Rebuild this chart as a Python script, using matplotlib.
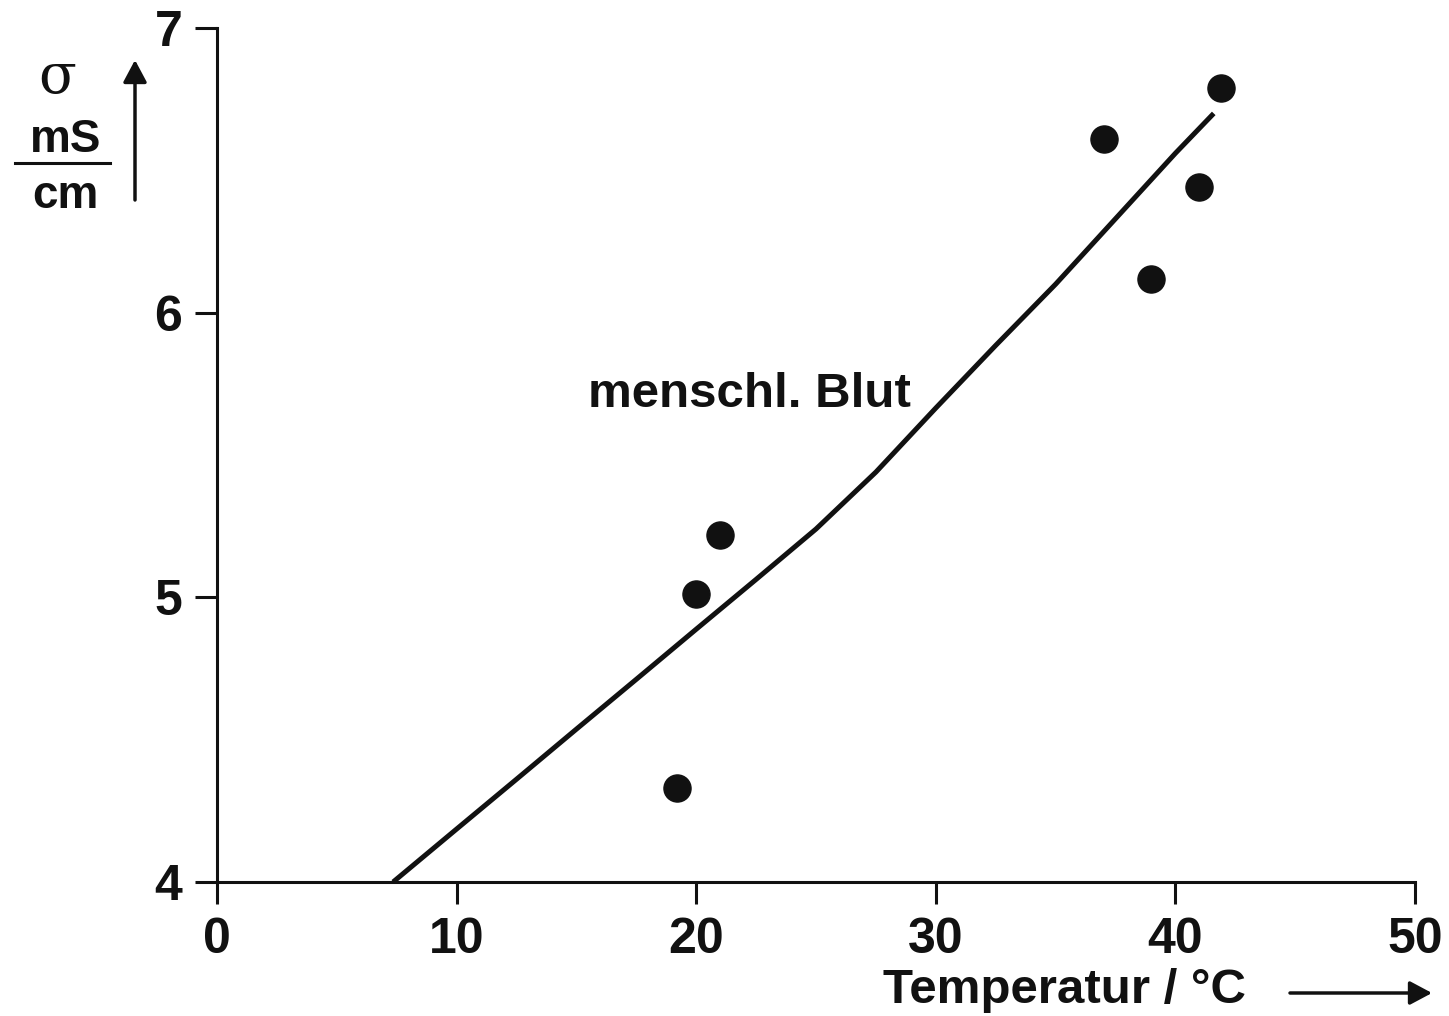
import matplotlib
matplotlib.use("Agg")
import matplotlib.pyplot as plt

plt.rcParams['font.family'] = ['Liberation Sans', 'DejaVu Sans']

# measured points (temperature in degC, conductivity in mS/cm)
temp_pts = [19.2, 20.0, 21.0, 37.0, 39.0, 41.0, 41.9]
sigma_pts = [4.33, 5.01, 5.22, 6.61, 6.12, 6.44, 6.79]

# fitted curve
temp_curve = [7.35, 10.0, 12.5, 15.0, 17.5, 20.0, 22.5, 25.0, 27.5, 30.0, 32.5, 35.0, 37.5, 40.0, 41.6]
sigma_curve = [4.0, 4.186, 4.361, 4.537, 4.712, 4.888, 5.063, 5.24, 5.44, 5.665, 5.885, 6.10, 6.33, 6.56, 6.70]

x_ticks = [0, 10, 20, 30, 40, 50]
y_ticks = [4, 5, 6, 7]

fig = plt.figure(figsize=(14.49, 10.16), dpi=100)
ax = fig.add_axes([217 / 1449, 1 - 882 / 1016, (1415 - 217) / 1449, (882 - 28) / 1016])

ax.plot(temp_curve, sigma_curve, color='#111111', lw=3.6, solid_capstyle='butt', clip_on=False)
ax.plot(temp_pts, sigma_pts, 'o', color='#111111', ms=19.5, clip_on=False)

ax.set_xlim(0, 50)
ax.set_ylim(4, 7)
ax.set_xticks(x_ticks)
ax.set_yticks(y_ticks)
ax.spines['top'].set_visible(False)
ax.spines['right'].set_visible(False)
for s in ['left', 'bottom']:
    ax.spines[s].set_linewidth(2.2)
    ax.spines[s].set_color('#111111')
ax.tick_params(axis='both', length=16, width=2.2, color='#111111', pad=9,
               labelsize=36, labelcolor='#111111')
for lab in ax.get_xticklabels() + ax.get_yticklabels():
    lab.set_fontweight('bold')

ax.text(15.48, 5.67, 'menschl. Blut', fontsize=35.5, fontweight='bold', color='#111111',
        ha='left', va='baseline')

arrow_style = '-|>,head_length=0.45,head_width=0.24'

# y label as fraction with arrow
fig.text(0.0393, 0.924, 'σ', fontsize=40, ha='center', va='center', color='#111111',
         family=['DejaVu Serif'])
fig.text(0.0455, 1 - 152 / 1016, 'mS', fontsize=33, fontweight='bold', ha='center',
         va='baseline', color='#111111')
fig.text(0.0455, 1 - 208 / 1016, 'cm', fontsize=33, fontweight='bold', ha='center',
         va='baseline', color='#111111')
fig.add_artist(plt.Line2D([15 / 1449, 110 / 1449], [1 - 163 / 1016] * 2, color='#111111', lw=2.2))
fig.add_artist(matplotlib.patches.FancyArrowPatch(
    (135 / 1449, 1 - 200 / 1016), (135 / 1449, 1 - 60 / 1016), transform=fig.transFigure,
    arrowstyle=arrow_style, mutation_scale=30, lw=2.5, color='#111111',
    shrinkA=0, shrinkB=0))

# x label with arrow
fig.text(883 / 1449, 1 - 1003 / 1016, 'Temperatur / °C', fontsize=35.5, fontweight='bold',
         ha='left', va='baseline', color='#111111')
fig.add_artist(matplotlib.patches.FancyArrowPatch(
    (1290 / 1449, 1 - 993 / 1016), (1432 / 1449, 1 - 993 / 1016), transform=fig.transFigure,
    arrowstyle=arrow_style, mutation_scale=30, lw=2.5, color='#111111',
    shrinkA=0, shrinkB=0))

fig.savefig('out.png', dpi=100)
